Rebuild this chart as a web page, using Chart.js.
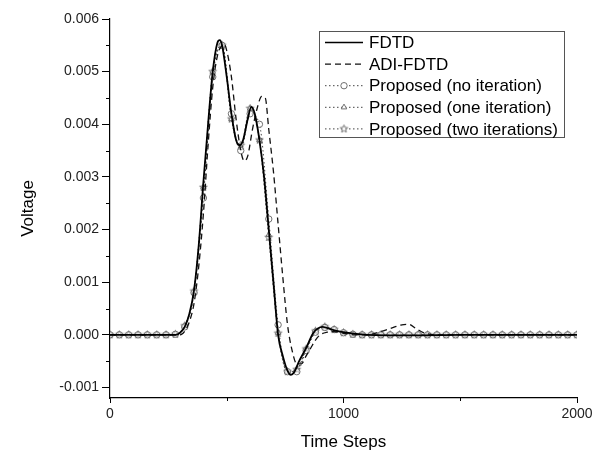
<!DOCTYPE html>
<html>
<head>
<meta charset="utf-8">
<script src="https://cdn.jsdelivr.net/npm/chart.js@4/dist/chart.umd.min.js"></script>
<style>
  body { margin: 0; background: #fff; }
  canvas { display: block; }
</style>
</head>
<body>
<canvas id="grafico" width="600" height="454"></canvas>
<script>
const FONT = '"Liberation Sans", Arial, sans-serif';

// FDTD (referência)
const stepsFdtd = [0, 280, 300, 320, 340, 360, 380, 400, 420, 440,
  460, 470, 480, 500, 520, 540, 555, 570, 590, 605,
  620, 640, 660, 680, 700, 720, 740, 760, 775, 790,
  810, 840, 870, 910, 950, 1000, 1100, 1300, 1500, 2000];
const fdtd = [0, 0, 0.00004, 0.00015, 0.0004, 0.00085, 0.0017, 0.0029, 0.0040, 0.0050,
  0.00555, 0.0056, 0.0055, 0.0049, 0.0042, 0.0037, 0.0036, 0.0037, 0.0041, 0.00433,
  0.0042, 0.0037, 0.0030, 0.0020, 0.0010, 0.0000, -0.0004, -0.00068, -0.00076, -0.0007,
  -0.0005, -0.00025, 0.00003, 0.00015, 0.0001, 0.00005, 0, -0.00001, 0, 0];

// ADI-FDTD
const stepsAdi = [0, 300, 320, 340, 360, 380, 400, 420, 440, 460,
  480, 490, 500, 520, 540, 560, 575, 590, 610, 630,
  650, 665, 680, 700, 720, 740, 760, 780, 800, 820,
  840, 860, 880, 900, 930, 960, 1000, 1050, 1100, 1150,
  1200, 1250, 1280, 1310, 1350, 1400, 2000];
const adiFdtd = [0, 0, 0.00007, 0.00025, 0.0006, 0.0013, 0.0023, 0.0036, 0.0047, 0.0053,
  0.0055, 0.00552, 0.0054, 0.0049, 0.0041, 0.0035, 0.0033, 0.0034, 0.0039, 0.0043,
  0.00453, 0.0045, 0.0039, 0.0031, 0.0021, 0.0011, 0.0002, -0.0003, -0.00055, -0.00055,
  -0.0004, -0.00025, -0.0001, 0, 0.00005, 0.00006, 0.00003, 0, 0, 0.00005,
  0.00012, 0.00019, 0.0002, 0.00012, 0.00003, 0, 0];

// Proposto (amostrado a cada 40 passos, com marcadores)
const stepsProp = [0, 40, 80, 120, 160, 200, 240, 280, 320, 360,
  400, 440, 480, 520, 560, 600, 640, 680, 720, 760,
  800, 840, 880, 920, 960, 1000, 1040, 1080, 1120, 1160,
  1200, 1240, 1280, 1320, 1360, 1400, 1440, 1480, 1520, 1560,
  1600, 1640, 1680, 1720, 1760, 1800, 1840, 1880, 1920, 1960,
  2000];
const propNoIter = [0, 0, 0, 0, 0, 0, 0, 0.00001, 0.00015, 0.0008,
  0.0026, 0.0049, 0.0055, 0.0042, 0.0035, 0.0042, 0.0040, 0.0022, 0.00019, -0.0007,
  -0.0007, -0.0003, 0.00005, 0.00014, 0.0001, 0.00004, 0.00001, 0, 0, 0,
  0, 0, 0, 0, 0, 0, 0, 0, 0, 0,
  0, 0, 0, 0, 0, 0, 0, 0, 0, 0,
  0];
const propOneIter = [0, 0, 0, 0, 0, 0, 0, 0.00001, 0.00017, 0.00083,
  0.0028, 0.0050, 0.0055, 0.0041, 0.00355, 0.0043, 0.0037, 0.0019, 0.00004, -0.0007,
  -0.00066, -0.00027, 0.00007, 0.00015, 0.0001, 0.00004, 0.00001, 0, 0, 0,
  0, 0, 0, 0, 0, 0, 0, 0, 0, 0,
  0, 0, 0, 0, 0, 0, 0, 0, 0, 0,
  0];
const propTwoIter = [0, 0, 0, 0, 0, 0, 0, 0.00001, 0.00017, 0.00083,
  0.0028, 0.0050, 0.0055, 0.0041, 0.0036, 0.0043, 0.0037, 0.00185, 0.00003, -0.0007,
  -0.00066, -0.00027, 0.00007, 0.00015, 0.0001, 0.00004, 0.00001, 0, 0, 0,
  0, 0, 0, 0, 0, 0, 0, 0, 0, 0,
  0, 0, 0, 0, 0, 0, 0, 0, 0, 0,
  0];

// marcas dos eixos (as rotuladas e as menores)
const xTicks = [0, 1000, 2000];
const xTickMarks = [0, 500, 1000, 1500, 2000];
const yTicks = [-0.001, 0, 0.001, 0.002, 0.003, 0.004, 0.005, 0.006];
const yTickMarks = [-0.001, -0.0005, 0, 0.0005, 0.001, 0.0015, 0.002, 0.0025,
  0.003, 0.0035, 0.004, 0.0045, 0.005, 0.0055, 0.006];

const pares = (xs, ys) => xs.map((x, i) => ({ x, y: ys[i] }));
const naLista = (lista, v) => lista.some(t => Math.abs(t - v) < 1e-9);

// estrela de 5 pontas (o 'star' do Chart.js é um asterisco)
function fazerEstrela(r) {
  const c = document.createElement('canvas');
  c.width = c.height = Math.ceil(2 * r + 3);
  const g = c.getContext('2d');
  const cx = c.width / 2, cy = c.height / 2;
  g.beginPath();
  for (let i = 0; i < 10; i++) {
    const rr = i % 2 === 0 ? r : r * 0.45;
    const a = -Math.PI / 2 + i * Math.PI / 5;
    const px = cx + rr * Math.cos(a), py = cy + rr * Math.sin(a);
    i === 0 ? g.moveTo(px, py) : g.lineTo(px, py);
  }
  g.closePath();
  g.fillStyle = 'rgba(255,255,255,0.6)';
  g.fill();
  g.strokeStyle = '#707070';
  g.lineWidth = 1;
  g.stroke();
  return c;
}

const propStyle = {
  borderColor: '#444',
  borderWidth: 1,
  borderDash: [1.5, 2.5],
  pointRadius: 3.2,
  pointBorderWidth: 1,
  pointBorderColor: '#707070',
  pointBackgroundColor: 'rgba(255,255,255,0.6)',
  cubicInterpolationMode: 'monotone'
};

const minorTicks = {
  id: 'minorTicks',
  afterDraw(chart) {
    const { ctx, scales: { x, y } } = chart;
    ctx.save();
    ctx.strokeStyle = '#000';
    ctx.lineWidth = 1;
    ctx.beginPath();
    x.ticks.forEach(t => {
      if (!naLista(xTicks, t.value)) {
        const px = Math.round(x.getPixelForValue(t.value)) + 0.5;
        ctx.moveTo(px, x.top); ctx.lineTo(px, x.top + 3);
      }
    });
    y.ticks.forEach(t => {
      if (!naLista(yTicks, t.value)) {
        const py = Math.round(y.getPixelForValue(t.value)) + 0.5;
        ctx.moveTo(y.right - 4, py); ctx.lineTo(y.right, py);
      }
    });
    ctx.stroke();
    ctx.restore();
  }
};

const legenda = {
  id: 'legenda',
  afterDraw(chart) {
    const ctx = chart.ctx;
    const bx = 319.5, by = 31.5, bw = 245, bh = 106;
    ctx.save();
    ctx.fillStyle = '#fff';
    ctx.fillRect(bx, by, bw, bh);
    ctx.strokeStyle = '#555';
    ctx.lineWidth = 1;
    ctx.strokeRect(bx, by, bw, bh);
    chart.data.datasets.forEach((ds, i) => {
      const yy = 42.5 + i * 21.6;
      ctx.save();
      ctx.setLineDash(ds.borderDash || []);
      ctx.strokeStyle = ds.borderColor;
      ctx.lineWidth = Math.min(ds.borderWidth, 1.4);
      ctx.beginPath();
      ctx.moveTo(325, yy); ctx.lineTo(363, yy);
      ctx.stroke();
      ctx.setLineDash([]);
      if (ds.pointRadius > 0) {
        ctx.fillStyle = '#fff';
        ctx.strokeStyle = ds.pointBorderColor;
        ctx.lineWidth = ds.pointBorderWidth;
        Chart.helpers.drawPoint(ctx, {
          pointStyle: ds.pointStyle, radius: ds.pointRadius, rotation: 0,
          borderWidth: ds.pointBorderWidth
        }, 344, yy);
      }
      ctx.restore();
      ctx.fillStyle = '#000';
      ctx.font = '17px ' + FONT;
      ctx.textBaseline = 'middle';
      ctx.fillText(ds.label, 369, yy + 1);
    });
    ctx.restore();
  }
};

new Chart(document.getElementById('grafico'), {
  type: 'line',
  data: {
    datasets: [
      {
        label: 'FDTD',
        data: pares(stepsFdtd, fdtd),
        borderColor: '#000',
        borderWidth: 1.8,
        pointRadius: 0,
        cubicInterpolationMode: 'monotone'
      },
      {
        label: 'ADI-FDTD',
        data: pares(stepsAdi, adiFdtd),
        borderColor: '#111',
        borderWidth: 1.3,
        borderDash: [6, 4],
        pointRadius: 0,
        cubicInterpolationMode: 'monotone'
      },
      Object.assign({ label: 'Proposed (no iteration)', data: pares(stepsProp, propNoIter), pointStyle: 'circle' }, propStyle),
      Object.assign({ label: 'Proposed (one iteration)', data: pares(stepsProp, propOneIter), pointStyle: 'triangle' }, propStyle),
      Object.assign({ label: 'Proposed (two iterations)', data: pares(stepsProp, propTwoIter), pointStyle: fazerEstrela(4) }, propStyle)
    ]
  },
  options: {
    responsive: false,
    animation: false,
    devicePixelRatio: 1,
    layout: { padding: { top: 19, right: 23, left: 0, bottom: 0 } },
    plugins: { legend: { display: false }, tooltip: { enabled: false } },
    scales: {
      x: {
        type: 'linear',
        min: 0,
        max: 2000,
        afterFit: s => { s.height = 56; },
        afterBuildTicks: s => { s.ticks = xTickMarks.map(v => ({ value: v })); },
        ticks: {
          autoSkip: false,
          maxRotation: 0,
          padding: 3,
          color: '#222',
          font: { family: FONT, size: 14 },
          callback: v => naLista(xTicks, v) ? String(v) : ''
        },
        grid: {
          drawOnChartArea: false,
          tickLength: 5,
          tickWidth: 1,
          tickColor: c => (c.tick && naLista(xTicks, c.tick.value)) ? '#000' : 'rgba(0,0,0,0)'
        },
        border: { color: '#000', width: 1.2 },
        title: {
          display: true,
          text: 'Time Steps',
          color: '#000',
          font: { family: FONT, size: 17 },
          padding: { top: 0, bottom: 1 }
        }
      },
      y: {
        min: -0.0012,
        max: 0.006,
        afterFit: s => { s.width = 110; },
        afterBuildTicks: s => { s.ticks = yTickMarks.map(v => ({ value: v })); },
        ticks: {
          autoSkip: false,
          padding: 3,
          color: '#222',
          font: { family: FONT, size: 14 },
          callback: v => {
            const t = yTicks.find(t => Math.abs(t - v) < 1e-9);
            return t === undefined ? '' : t.toFixed(3);
          }
        },
        grid: {
          drawOnChartArea: false,
          tickLength: 8,
          tickWidth: 1,
          tickColor: c => (c.tick && naLista(yTicks, c.tick.value)) ? '#000' : 'rgba(0,0,0,0)'
        },
        border: { color: '#000', width: 1.2 },
        title: {
          display: true,
          text: 'Voltage',
          color: '#000',
          font: { family: FONT, size: 17 },
          padding: { top: 18, bottom: 0 }
        }
      }
    }
  },
  plugins: [minorTicks, legenda]
});
</script>
</body>
</html>
